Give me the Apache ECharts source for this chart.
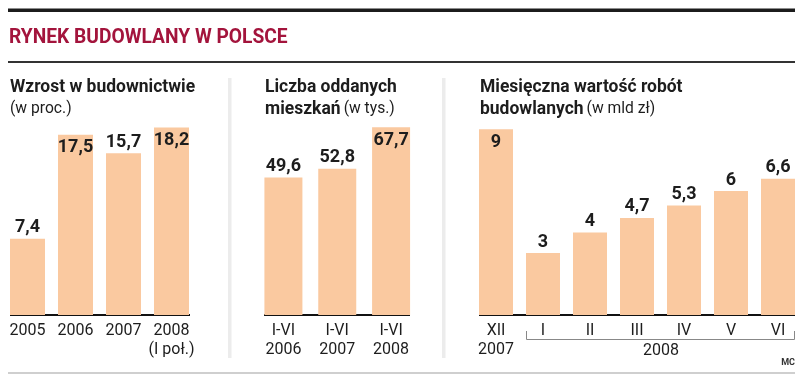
<!DOCTYPE html>
<html>
<head>
<meta charset="utf-8">
<script src="https://cdn.jsdelivr.net/npm/echarts@6/dist/echarts.min.js"></script>
<style>html,body{margin:0;padding:0;background:#fff}#c{width:805px;height:381px}</style>
</head>
<body>
<div id="c"></div>
<script>
// ---- data ----
var chartTitle = 'RYNEK BUDOWLANY W POLSCE';
var growthCats = ['2005', '2006', '2007', '2008\n(I poł.)'];
var growthVals = [7.4, 17.5, 15.7, 18.2];
var growthInside = [false, true, false, true];

var housingCats = ['I-VI\n2006', 'I-VI\n2007', 'I-VI\n2008'];
var housingVals = [49.6, 52.8, 67.7];
var housingInside = [false, false, true];

var monthCats = ['XII\n2007', 'I', 'II', 'III', 'IV', 'V', 'VI'];
var monthVals = [9, 3, 4, 4.7, 5.3, 6, 6.6];
var monthInside = [true, false, false, false, false, false, false];
var monthYearLabel = '2008';
var sourceTag = 'MC';

// ---- styling ----
var FF = 'Roboto, "Liberation Sans", sans-serif';
var BAR = '#fac9a0';
var INK = '#1d1d1d';
var HSX = 0.92; // horizontal squeeze for headings (condensed look)

function fmt(v) { return String(v).replace('.', ','); }
function items(vals, inside) {
  return vals.map(function (v, i) {
    return {
      value: v,
      label: inside[i]
        ? { position: 'insideTop', distance: 4 }
        : { position: 'top', distance: 2 }
    };
  });
}
var labelStyle = {
  show: true, color: INK, fontFamily: FF, fontWeight: 'bold', fontSize: 18,
  formatter: function (p) { return fmt(p.value); }
};
function xAx(idx, cats) {
  return {
    type: 'category', gridIndex: idx, data: cats,
    axisLine: { show: false }, axisTick: { show: false },
    axisLabel: { color: INK, fontFamily: FF, fontSize: 16, lineHeight: 19.5, margin: 6, interval: 0 }
  };
}
function yAx(idx, max) {
  return { type: 'value', gridIndex: idx, min: 0, max: max, show: false, splitLine: { show: false } };
}

var chart = echarts.init(document.getElementById('c'), null, { renderer: 'canvas' });
var hdrRich = {
  b: { fontFamily: FF, fontWeight: 'bold', fontSize: 19, fill: INK, color: INK },
  n: { fontFamily: FF, fontWeight: 'normal', fontSize: 17, fill: INK, color: INK }
};
function hdr(x, y, txt) {
  return { type: 'text', x: x, y: y, scaleX: HSX, silent: true,
    style: { text: txt, rich: hdrRich, verticalAlign: 'middle', align: 'left', fill: INK } };
}
chart.setOption({
  animation: false,
  grid: [
    { left: 3.5, width: 192, top: 109, height: 206 },
    { left: 256.5, width: 161.5, top: 121, height: 194 },
    { left: 472.5, width: 329, top: 108.5, height: 206.5 }
  ],
  xAxis: [xAx(0, growthCats), xAx(1, housingCats), xAx(2, monthCats)],
  yAxis: [yAx(0, 20), yAx(1, 70), yAx(2, 10)],
  series: [
    { type: 'bar', xAxisIndex: 0, yAxisIndex: 0, barWidth: 35, itemStyle: { color: BAR }, label: labelStyle, data: items(growthVals, growthInside) },
    { type: 'bar', xAxisIndex: 1, yAxisIndex: 1, barWidth: 38, itemStyle: { color: BAR }, label: labelStyle, data: items(housingVals, housingInside) },
    { type: 'bar', xAxisIndex: 2, yAxisIndex: 2, barWidth: 34, itemStyle: { color: BAR }, label: labelStyle, data: items(monthVals, monthInside) }
  ],
  graphic: [
    { type: 'rect', shape: { x: 8, y: 8.5, width: 787, height: 3.5 }, style: { fill: '#1c1c1c' }, silent: true },
    { type: 'text', x: 9, y: 38, scaleX: 0.96, silent: true,
      style: { text: chartTitle, fill: '#a3143c', font: 'bold 20px ' + FF, verticalAlign: 'middle' } },
    { type: 'rect', shape: { x: 8, y: 61, width: 787, height: 2 }, style: { fill: '#333' }, silent: true },
    hdr(10, 87, '{b|Wzrost w budownictwie}'),
    hdr(10, 109, '{n|(w proc.)}'),
    hdr(265, 87, '{b|Liczba oddanych}'),
    hdr(265, 109, '{b|mieszkań} {n|(w tys.)}'),
    hdr(480, 87, '{b|Miesięczna wartość robót}'),
    hdr(480, 109, '{b|budowlanych} {n|(w mld zł)}'),
    { type: 'rect', shape: { x: 228, y: 78, width: 3.5, height: 280 }, style: { fill: '#ececec' }, silent: true },
    { type: 'rect', shape: { x: 442, y: 78, width: 3.5, height: 280 }, style: { fill: '#ececec' }, silent: true },
    { type: 'rect', shape: { x: 10, y: 314, width: 180, height: 2 }, style: { fill: '#111' }, silent: true },
    { type: 'rect', shape: { x: 264, y: 314, width: 146, height: 2 }, style: { fill: '#111' }, silent: true },
    { type: 'rect', shape: { x: 479, y: 314, width: 316, height: 2 }, style: { fill: '#111' }, silent: true },
    { type: 'polyline', silent: true, shape: { points: [[526.5, 331], [526.5, 339.5], [794.5, 339.5], [794.5, 331]] },
      style: { stroke: '#888', lineWidth: 1, fill: null } },
    { type: 'text', x: 661, y: 351, silent: true,
      style: { text: monthYearLabel, fill: INK, font: '16px ' + FF, align: 'center', verticalAlign: 'middle' } },
    { type: 'text', x: 795, y: 363, silent: true,
      style: { text: sourceTag, fill: '#333', font: 'bold 9px ' + FF, align: 'right', verticalAlign: 'middle' } },
    { type: 'rect', shape: { x: 8, y: 372, width: 787, height: 2 }, style: { fill: '#cfcfcf' }, silent: true }
  ]
});
</script>
</body>
</html>
